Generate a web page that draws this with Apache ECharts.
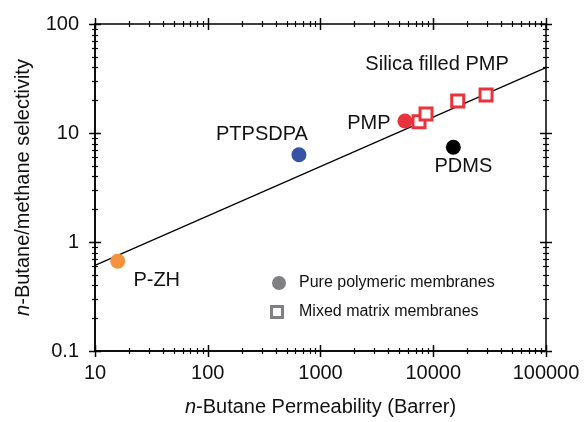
<!DOCTYPE html>
<html>
<head>
<meta charset="utf-8">
<script src="https://cdn.jsdelivr.net/npm/echarts@6/dist/echarts.min.js"></script>
<style>html,body{margin:0;padding:0;background:#fff;}#c{width:584px;height:422px;}</style>
</head>
<body>
<div id="c"></div>
<script>
// ---- data ----
const pureNames = ['P-ZH', 'PTPSDPA', 'PMP', 'PDMS'];
const pureX = [15.9, 644, 5610, 15070];
const pureY = [0.667, 6.31, 12.9, 7.41];
const mixedX = [7480, 8630, 16480, 29400];
const mixedY = [12.7, 14.9, 19.7, 22.3];
const mixedLabel = 'Silica filled PMP';
const trendX = [10, 100000];
const trendY = [0.61, 39.8];
const xTickLabels = ['10', '100', '1000', '10000', '100000'];
const yTickLabels = ['0.1', '1', '10', '100'];
const legendNames = ['Pure polymeric membranes', 'Mixed matrix membranes'];

// ---- styles ----
const pureColors = ['#f5923e', '#3653a4', '#e8333c', '#000000'];
const pureLabelOffsets = [[39, 19], [-37, -20], [-36, 3], [10, 19]];
const mixedColor = '#e8333c';
const txt = '#111111';
const font = 'Liberation Sans, Arial, Helvetica, sans-serif';

// tick marks (axis decoration)
const tickSpecs = [];
[10, 100, 1000, 10000, 100000].forEach((d) => {
  tickSpecs.push({ axis: 'x', v: d, major: true });
  if (d < 100000) for (let m = 2; m <= 9; m++) tickSpecs.push({ axis: 'x', v: d * m, major: false });
});
[0.1, 1, 10, 100].forEach((d) => {
  tickSpecs.push({ axis: 'y', v: d, major: true });
  if (d < 100) for (let m = 2; m <= 9; m++) tickSpecs.push({ axis: 'y', v: d * m, major: false });
});

const chart = echarts.init(document.getElementById('c'), null, { renderer: 'canvas' });

const pureData = pureNames.map((n, i) => ({
  name: n,
  value: [pureX[i], pureY[i]],
  itemStyle: { color: pureColors[i], opacity: 1 },
  label: { show: true, formatter: n, position: 'inside', offset: pureLabelOffsets[i] }
}));
const mixedData = mixedX.map((x, i) => {
  const item = { value: [x, mixedY[i]] };
  if (i === mixedX.length - 1) {
    item.label = { show: true, formatter: mixedLabel, position: 'inside', offset: [-49, -31] };
  }
  return item;
});

function renderTick(params, api) {
  const t = tickSpecs[params.dataIndex];
  const cs = params.coordSys;
  const L = t.major ? 6 : 3;
  const style = { stroke: '#000', lineWidth: t.major ? 1.5 : 1.2 };
  const children = [];
  if (t.axis === 'x') {
    const px = Math.round(api.coord([t.v, 1])[0]) + 0.5;
    const yb = cs.y + cs.height, yt = cs.y;
    children.push({ type: 'line', shape: { x1: px, y1: yb - L, x2: px, y2: yb + L }, style });
    children.push({ type: 'line', shape: { x1: px, y1: yt - L, x2: px, y2: yt + L }, style });
  } else {
    const py = Math.round(api.coord([10, t.v])[1]) + 0.5;
    const xl = cs.x, xr = cs.x + cs.width;
    children.push({ type: 'line', shape: { x1: xl - L, y1: py, x2: xl + L, y2: py }, style });
    children.push({ type: 'line', shape: { x1: xr - L, y1: py, x2: xr + L, y2: py }, style });
  }
  return { type: 'group', children };
}

const labelStyle = { fontSize: 20, color: txt, fontFamily: font, opacity: 1, textBorderWidth: 0 };

const option = {
  animation: false,
  backgroundColor: '#fff',
  textStyle: { fontFamily: font },
  grid: { left: 95, right: 38, top: 24, bottom: 68, show: true, borderColor: '#000', borderWidth: 1.5, backgroundColor: 'transparent' },
  xAxis: {
    type: 'log', logBase: 10, min: 10, max: 100000,
    name: '{i|n}-Butane Permeability (Barrer)',
    nameLocation: 'middle', nameGap: 46,
    nameTextStyle: { fontSize: 20, color: txt, fontFamily: font, rich: { i: { fontStyle: 'italic', fontSize: 20, color: txt, fontFamily: font } } },
    axisLine: { show: true, lineStyle: { color: '#000', width: 1.5 } },
    axisTick: { show: false }, minorTick: { show: false },
    splitLine: { show: false },
    axisLabel: { fontSize: 20, color: txt, margin: 12, formatter: (v) => xTickLabels[Math.round(Math.log10(v)) - 1] }
  },
  yAxis: {
    type: 'log', logBase: 10, min: 0.1, max: 100,
    name: '{i|n}-Butane/methane selectivity',
    nameLocation: 'middle', nameGap: 62,
    nameTextStyle: { fontSize: 20, color: txt, fontFamily: font, rich: { i: { fontStyle: 'italic', fontSize: 20, color: txt, fontFamily: font } } },
    axisLine: { show: true, lineStyle: { color: '#000', width: 1.5 } },
    axisTick: { show: false }, minorTick: { show: false },
    splitLine: { show: false },
    axisLabel: { fontSize: 20, color: txt, margin: 16, formatter: (v) => yTickLabels[Math.round(Math.log10(v)) + 1] }
  },
  series: [
    {
      type: 'custom', renderItem: renderTick, silent: true, clip: false, z: 10,
      data: tickSpecs.map(t => t.axis === 'x' ? [t.v, 1] : [10, t.v])
    },
    {
      type: 'line', data: trendX.map((x, i) => [x, trendY[i]]), showSymbol: false, symbol: 'none',
      lineStyle: { color: '#000', width: 1.2 }, silent: true, z: 2
    },
    {
      type: 'scatter', data: pureData, symbol: 'circle', symbolSize: 15, z: 3,
      itemStyle: { opacity: 1 },
      label: labelStyle
    },
    {
      type: 'scatter', data: mixedData, symbol: 'rect', symbolSize: 12, z: 4,
      itemStyle: { color: '#fff', borderColor: mixedColor, borderWidth: 3, opacity: 1 },
      label: labelStyle
    }
  ],
  graphic: [
    { type: 'circle', shape: { cx: 279, cy: 283, r: 7 }, style: { fill: '#808083' } },
    { type: 'rect', shape: { x: 271.5, y: 306.5, width: 11, height: 11 }, style: { fill: '#fff', stroke: '#808083', lineWidth: 3 } },
    { type: 'text', x: 299, y: 283, style: { text: legendNames[0], font: '16px ' + font, fill: txt, verticalAlign: 'middle' } },
    { type: 'text', x: 299, y: 312, style: { text: legendNames[1], font: '16px ' + font, fill: txt, verticalAlign: 'middle' } }
  ]
};
chart.setOption(option);
</script>
</body>
</html>
